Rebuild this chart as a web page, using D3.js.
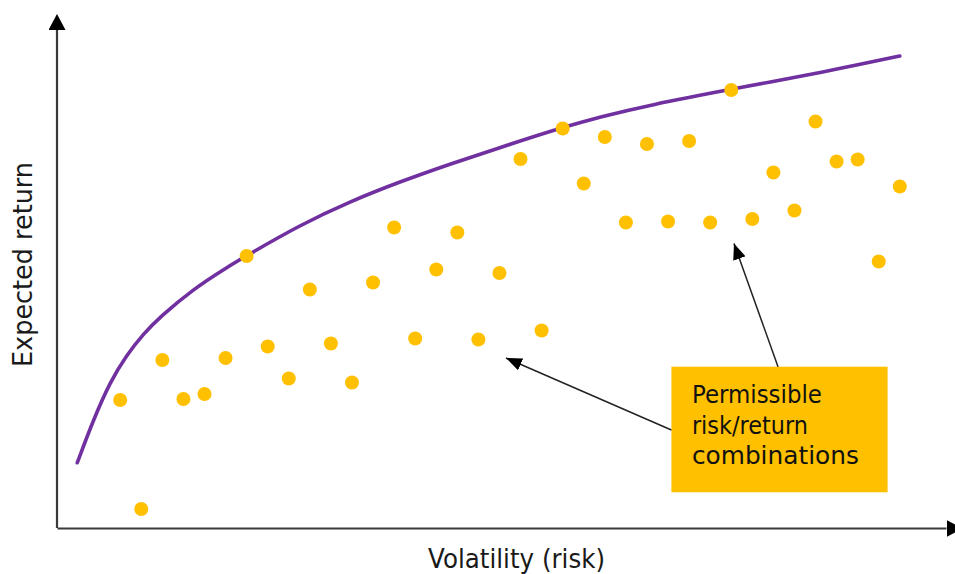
<!DOCTYPE html>
<html>
<head>
<meta charset="utf-8">
<script src="https://cdn.jsdelivr.net/npm/d3@7"></script>
<style>
  html, body { margin: 0; padding: 0; background: #fff; }
  svg { display: block; }
</style>
</head>
<body>
<script>
// ---- Data ----
// Volatility (risk) positions of the dots
const volatility = [3,4,5,6,7,8,9,10,11,12,13,14,15,16,17,18,19,20,21,22,23,24,25,26,27,28,29,30,31,32,33,34,35,36,37,38,39,40];
// Expected return of the dots
const expReturn = [25.6,3.8,33.6,25.8,26.8,34,54.4,36.3,29.9,47.7,36.9,29.1,49.1,60.1,37.9,51.7,59.1,37.7,51,73.8,39.5,79.9,68.9,78.2,61.1,76.8,61.3,77.4,61.1,87.6,61.8,71.1,63.5,81.3,73.3,73.7,53.3,68.3];
// Efficient frontier curve samples
const frontierVol = [0.963,1.723,2.515,3.308,4.096,4.888,6.469,8.054,8.97,11.533,13.906,16.279,18.652,21.025,23.982,25.757,28.13,31.93,36.53,40.0];
const frontierRet = [13.06,21.6,29.2,34.6,38.8,42.2,47.8,52.1,54.4,60.6,65.3,69.26,72.8,76.1,80.1,82.2,84.6,87.7,91.3,94.4];
// Labels
const xLabel = "Volatility (risk)";
const yLabel = "Expected return";
const calloutLines = ["Permissible", "risk/return", "combinations"];
const calloutWidths = [130, 116, 167];
// Callout geometry in data units
const calloutBox = {v0: 29.16, v1: 39.42, r0: 7.14, r1: 32.26};
const calloutArrows = [
  {fromV: 29.16, fromR: 19.6, toV: 21.31, toR: 34.0},
  {fromV: 34.22, fromR: 32.26, toV: 32.13, toR: 56.9}
];

const W = 955, H = 574;
const svg = d3.select("body").append("svg").attr("width", W).attr("height", H);

const x = d3.scaleLinear().domain([0, 40]).range([57, 899.8]);
const y = d3.scaleLinear().domain([0, 100]).range([528, 28]);

const defs = svg.append("defs");
defs.append("marker").attr("id", "axArrow")
  .attr("viewBox", "0 0 16 17").attr("refX", 0).attr("refY", 8.5)
  .attr("markerWidth", 16).attr("markerHeight", 17)
  .attr("markerUnits", "userSpaceOnUse").attr("orient", "auto")
  .append("path").attr("d", "M0,0L16,8.5L0,17Z").attr("fill", "#000");
defs.append("marker").attr("id", "callArrow")
  .attr("viewBox", "0 0 16 13").attr("refX", 16).attr("refY", 6.5)
  .attr("markerWidth", 16).attr("markerHeight", 13)
  .attr("markerUnits", "userSpaceOnUse").attr("orient", "auto")
  .append("path").attr("d", "M0,0L16,6.5L0,13Z").attr("fill", "#000");

// Axes (no ticks), extended to arrowheads
const xAxisScale = x.copy().domain([0, x.invert(946)]).range([57, 946]);
const yAxisScale = y.copy().domain([0, y.invert(30)]).range([528, 30]);

const gx = svg.append("g").attr("transform", `translate(0,${y(0)})`)
  .call(d3.axisBottom(xAxisScale).tickValues([]).tickSizeOuter(0));
gx.select(".domain").attr("stroke", "#3a3a3a").attr("stroke-width", 2.2)
  .attr("marker-end", "url(#axArrow)");

const gy = svg.append("g").attr("transform", `translate(${x(0)},0)`)
  .call(d3.axisLeft(yAxisScale).tickValues([]).tickSizeOuter(0));
gy.select(".domain").attr("d", `M0,${yAxisScale.range()[0]}V${yAxisScale.range()[1]}`)
  .attr("stroke", "#3a3a3a").attr("stroke-width", 2.2)
  .attr("marker-end", "url(#axArrow)");

// Axis labels
svg.append("text")
  .attr("x", 516.5).attr("y", 568)
  .attr("text-anchor", "middle")
  .attr("font-family", "DejaVu Sans, sans-serif")
  .attr("font-size", 26).attr("fill", "#1a1a1a")
  .attr("textLength", 177).attr("lengthAdjust", "spacingAndGlyphs")
  .text(xLabel);

svg.append("text")
  .attr("transform", "translate(31.5,264.5) rotate(-90)")
  .attr("text-anchor", "middle")
  .attr("font-family", "DejaVu Sans, sans-serif")
  .attr("font-size", 26).attr("fill", "#1a1a1a")
  .attr("textLength", 205).attr("lengthAdjust", "spacingAndGlyphs")
  .text(yLabel);

// Frontier curve
const frontier = frontierVol.map((v, i) => [v, frontierRet[i]]);
svg.append("path")
  .datum(frontier)
  .attr("fill", "none").attr("stroke", "#7030A0").attr("stroke-width", 3.6)
  .attr("stroke-linecap", "round")
  .attr("d", d3.line().x(d => x(d[0])).y(d => y(d[1])).curve(d3.curveBasis));

// Dots
svg.append("g").selectAll("circle")
  .data(volatility.map((v, i) => [v, expReturn[i]]))
  .join("circle")
  .attr("cx", d => x(d[0])).attr("cy", d => y(d[1]))
  .attr("r", 7).attr("fill", "#FFC000");

// Callout box
const bx = x(calloutBox.v0), by = y(calloutBox.r1);
svg.append("rect")
  .attr("x", bx).attr("y", by)
  .attr("width", x(calloutBox.v1) - bx).attr("height", y(calloutBox.r0) - by)
  .attr("fill", "#FFC000");

const ct = svg.append("g")
  .attr("font-family", "DejaVu Sans, sans-serif")
  .attr("font-size", 24.5).attr("fill", "#111");
calloutLines.forEach((t, i) => {
  ct.append("text").attr("x", bx + 20.5).attr("y", by + 36 + i * 30.8)
    .attr("textLength", calloutWidths[i]).attr("lengthAdjust", "spacingAndGlyphs")
    .text(t);
});

// Callout arrows
svg.append("g").selectAll("line")
  .data(calloutArrows)
  .join("line")
  .attr("x1", d => x(d.fromV)).attr("y1", d => y(d.fromR))
  .attr("x2", d => x(d.toV)).attr("y2", d => y(d.toR))
  .attr("stroke", "#222").attr("stroke-width", 1.5)
  .attr("marker-end", "url(#callArrow)");
</script>
</body>
</html>
